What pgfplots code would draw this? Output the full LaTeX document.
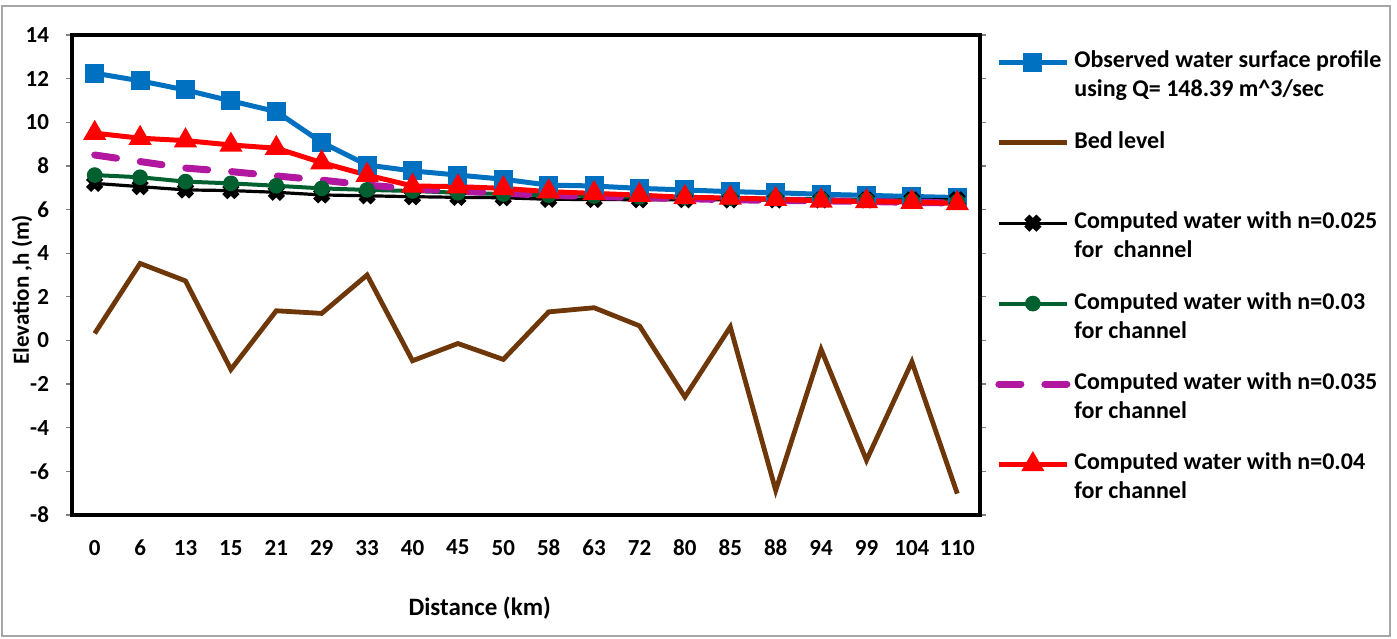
\documentclass[border=0pt]{standalone}
\usepackage{pgfplots}
\pgfplotsset{compat=1.18}
\usepackage{fontspec}
\setmainfont{Carlito}
\definecolor{cblue}{HTML}{0070C0}
\definecolor{cbrown}{HTML}{6E3709}
\definecolor{cgreen}{HTML}{00602F}
\definecolor{cmag}{HTML}{B1179F}
\definecolor{cred}{HTML}{FF0000}
\begin{document}
\begin{tikzpicture}
\useasboundingbox (0,0) rectangle (698.5pt,319pt);
\draw[gray!70,line width=0.6pt] (1pt,1pt) rectangle (695pt,316pt);
\begin{axis}[
  at={(36pt,61.5pt)}, anchor=south west,
  scale only axis, width=454pt, height=240pt,
  xmin=-0.5, xmax=19.5, ymin=-8, ymax=14,
  xtick={0,...,19},
  xticklabels={0,6,13,15,21,29,33,40,45,50,58,63,72,80,85,88,94,99,104,110},
  ytick={-8,-6,...,14},
  /pgf/number format/assume math mode=true,
  ticklabel style={font=\fontsize{11.5}{13}\selectfont\bfseries},
  xticklabel style={yshift=-6pt},
  yticklabel style={xshift=-5pt},
  x tick style={draw=none},
  y tick style={gray,line width=0.6pt},
  tick align=outside, major tick length=3pt,
  extra x ticks={-0.5,4.5,9.5,14.5,19.5},
  extra x tick labels={},
  extra x tick style={tick style={gray,line width=0.6pt}, major tick length=3pt},
  axis line style={line width=2pt},
  xlabel={\bfseries Distance (km)},
  ylabel={\bfseries Elevation ,h (m)},
  xlabel style={font=\fontsize{12.5}{14}\selectfont,at={(axis description cs:0.449,-0.194)},anchor=center},
  ylabel style={font=\fontsize{11.5}{14}\selectfont,at={(axis description cs:-0.055,0.469)},anchor=center},
  legend style={at={(axis description cs:1.0165,0.995)}, anchor=north west, yshift=-4.5pt,
    draw=none, fill=none, font=\fontsize{12}{14.5}\selectfont\bfseries,
    cells={anchor=west, align=left}, row sep=11.8pt, inner sep=0pt},
  legend image code/.code={\draw[mark repeat=2,mark phase=2,yshift=6.5pt] plot coordinates {(0pt,0pt) (17pt,0pt) (34pt,0pt)};},
  clip=false,
]
\addplot[cblue, line width=2.5pt, mark=square*, mark size=3.5pt, mark options={solid}] coordinates {
(0,12.25)(1,11.9)(2,11.48)(3,10.98)(4,10.49)(5,9.08)(6,8.04)(7,7.77)(8,7.58)(9,7.39)
(10,7.12)(11,7.08)(12,6.97)(13,6.9)(14,6.82)(15,6.77)(16,6.7)(17,6.65)(18,6.6)(19,6.55)};
\addlegendentry{Observed water surface profile\\using Q= 148.39 m\textasciicircum 3/sec}
\addplot[cbrown, line width=2.4pt] coordinates {
(0,0.32)(1,3.53)(2,2.73)(3,-1.33)(4,1.36)(5,1.24)(6,3.0)(7,-0.93)(8,-0.14)(9,-0.87)
(10,1.31)(11,1.5)(12,0.67)(13,-2.59)(14,0.62)(15,-6.87)(16,-0.41)(17,-5.49)(18,-0.98)(19,-7.02)};
\addlegendentry{Bed level\\\mbox{}}
\addplot[black, line width=1.6pt, mark=x, mark size=4.3pt, mark options={line width=3.6pt}] coordinates {
(0,7.2)(1,7.05)(2,6.9)(3,6.87)(4,6.79)(5,6.67)(6,6.63)(7,6.59)(8,6.56)(9,6.54)
(10,6.47)(11,6.46)(12,6.45)(13,6.45)(14,6.44)(15,6.44)(16,6.44)(17,6.44)(18,6.44)(19,6.45)};
\addlegendentry{Computed water with n=0.025\\for\ \ channel}
\addplot[cgreen, line width=2pt, mark=*, mark size=2.9pt] coordinates {
(0,7.58)(1,7.48)(2,7.28)(3,7.2)(4,7.09)(5,6.97)(6,6.9)(7,6.85)(8,6.77)(9,6.71)
(10,6.66)(11,6.62)(12,6.58)(13,6.55)(14,6.52)(15,6.5)(16,6.47)(17,6.44)(18,6.4)(19,6.36)};
\addlegendentry{Computed water with n=0.03\\for channel}
\addplot[cmag, line width=3.5pt, line cap=round, dash pattern=on 11pt off 12pt] coordinates {
(0,8.5)(1,8.2)(2,7.9)(3,7.74)(4,7.54)(5,7.35)(6,7.12)(7,6.95)(8,6.85)(9,6.75)
(10,6.65)(11,6.6)(12,6.55)(13,6.5)(14,6.45)(15,6.42)(16,6.4)(17,6.37)(18,6.33)(19,6.3)};
\addlegendentry{Computed water with n=0.035\\for channel}
\addplot[cred, line width=2.5pt, mark=triangle*, mark size=4.2pt, mark options={solid}] coordinates {
(0,9.5)(1,9.27)(2,9.16)(3,8.96)(4,8.81)(5,8.15)(6,7.58)(7,7.08)(8,7.05)(9,6.97)
(10,6.82)(11,6.74)(12,6.66)(13,6.56)(14,6.53)(15,6.47)(16,6.4)(17,6.37)(18,6.34)(19,6.28)};
\addlegendentry{Computed water with n=0.04\\for channel}
\end{axis}
\end{tikzpicture}
\end{document}
